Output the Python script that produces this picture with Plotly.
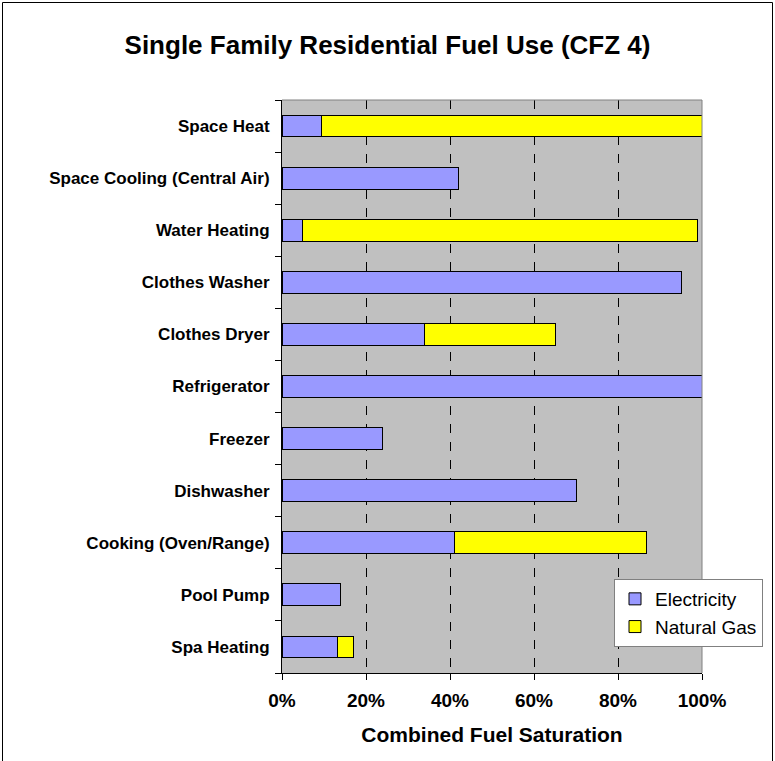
import plotly.graph_objects as go

categories = ["Space Heat", "Space Cooling (Central Air)", "Water Heating", "Clothes Washer",
              "Clothes Dryer", "Refrigerator", "Freezer", "Dishwasher",
              "Cooking (Oven/Range)", "Pool Pump", "Spa Heating"]
electricity = [9.5, 42.0, 4.9, 95.1, 34.0, 100.0, 23.9, 70.0, 41.0, 14.0, 13.1]
natural_gas = [90.5, 0, 94.1, 0, 31.1, 0, 0, 0, 45.9, 0, 4.0]
tick_vals = [0, 20, 40, 60, 80, 100]
tick_text = ["0%", "20%", "40%", "60%", "80%", "100%"]

FONT = "Liberation Sans, Arial, sans-serif"

fig = go.Figure()
fig.add_trace(go.Bar(y=categories, x=electricity, orientation="h", name="Electricity",
                     marker=dict(color="#9999FF", line=dict(color="black", width=1))))
fig.add_trace(go.Bar(y=categories, x=natural_gas, orientation="h", name="Natural Gas",
                     marker=dict(color="#FFFF00", line=dict(color="black", width=1))))

L, R, T, B = 282, 73, 100, 88
W, H = 775, 761
pw, ph = W - L - R, H - T - B

def px(x):
    return (x - L) / pw

def py(y):
    return (H - B - y) / ph

fig.update_layout(
    width=W, height=H,
    barmode="stack", bargap=0.58,
    margin=dict(l=L, r=R, t=T, b=B, autoexpand=False),
    paper_bgcolor="white", plot_bgcolor="#C0C0C0",
    font=dict(family=FONT, color="black"),
    title=dict(text="<b>Single Family Residential Fuel Use (CFZ 4)</b>",
               x=0.5, xanchor="center", y=1 - 45 / H, yanchor="middle",
               font=dict(size=26, family=FONT)),
    legend=dict(x=px(614), y=py(579), xanchor="left", yanchor="top",
                bgcolor="white", bordercolor="#808080", borderwidth=1,
                font=dict(size=19, family=FONT), traceorder="normal",
                itemwidth=30, tracegroupgap=0),
    showlegend=True,
    xaxis=dict(range=[0, 100], tickvals=tick_vals,
               ticktext=["<b>%s</b>" % t for t in tick_text],
               showgrid=True, gridcolor="black", griddash="dash", gridwidth=1,
               showline=True, linecolor="black", linewidth=1,
               ticks="outside", ticklen=6, tickcolor="black",
               tickfont=dict(size=19, family=FONT), ticklabelstandoff=4,
               title=dict(text="<b>Combined Fuel Saturation</b>", standoff=17,
                          font=dict(size=21, family=FONT)),
               zeroline=False, fixedrange=True),
    yaxis=dict(autorange="reversed", type="category", tickson="boundaries",
               tickvals=categories, ticktext=["<b>%s</b>" % c for c in categories],
               showgrid=False, showline=True, linecolor="black", linewidth=1,
               ticks="outside", ticklen=6, tickcolor="black",
               tickfont=dict(size=17, family=FONT), ticklabelstandoff=8,
               fixedrange=True),
)

# plot area border (gray top/right) and outer chart border
fig.add_shape(type="line", xref="paper", yref="paper", x0=0, x1=1, y0=1, y1=1,
              line=dict(color="#808080", width=1), layer="above")
fig.add_shape(type="line", xref="paper", yref="paper", x0=1, x1=1, y0=0, y1=1,
              line=dict(color="#808080", width=1), layer="above")
fig.add_shape(type="rect", xref="paper", yref="paper",
              x0=px(2.5), x1=px(772.5), y0=py(763), y1=py(2.5),
              line=dict(color="black", width=1), fillcolor="rgba(0,0,0,0)", layer="above")

fig.write_html("out.html", config={"displayModeBar": False},
               post_script="document.body.style.margin='0';document.body.style.overflow='hidden';")
